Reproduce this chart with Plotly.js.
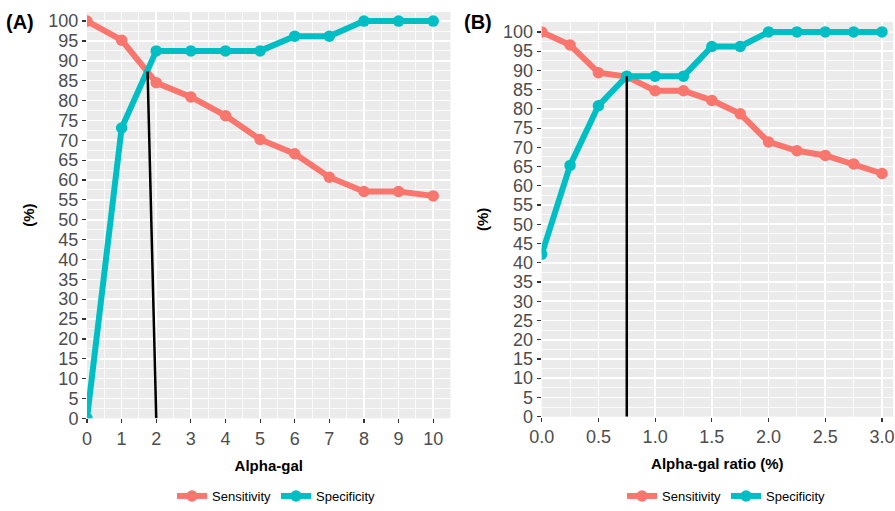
<!DOCTYPE html>
<html>
<head>
<meta charset="utf-8">
<script src="https://cdn.plot.ly/plotly-3.0.1.min.js"></script>
<style>
  html, body { margin: 0; padding: 0; background: #ffffff; }
  #chart { width: 895px; height: 511px; }
</style>
</head>
<body>
<div id="chart"></div>
<script>
// ---------- Data ----------
const alphaGal = [0, 1, 2, 3, 4, 5, 6, 7, 8, 9, 10];
const sensA = [100, 95.2, 84.5, 80.9, 76.2, 70.2, 66.6, 60.7, 57.1, 57.1, 56.0];
const specA = [0, 73.1, 92.5, 92.5, 92.5, 92.5, 96.2, 96.2, 100, 100, 100];
const cutoffAx = [2, 1.75];
const cutoffAy = [0, 87.3];

const alphaGalRatio = [0, 0.25, 0.5, 0.75, 1.0, 1.25, 1.5, 1.75, 2.0, 2.25, 2.5, 2.75, 3.0];
const sensB = [100, 96.6, 89.4, 88.4, 84.7, 84.7, 82.2, 78.7, 71.4, 69.1, 67.9, 65.7, 63.2];
const specB = [42.2, 65.3, 80.8, 88.5, 88.5, 88.5, 96.2, 96.2, 100, 100, 100, 100, 100];
const cutoffBx = [0.75, 0.75];
const cutoffBy = [0, 88.5];

const seriesNames = ['Sensitivity', 'Specificity'];
const panelLabels = ['(A)', '(B)'];
const xTitles = ['Alpha-gal', 'Alpha-gal ratio (%)'];
const yTitle = '(%)';

// ---------- Styles ----------
const RED = '#F8766D';
const TEAL = '#00BFC4';
const FONT = 'Liberation Sans, Arial, Helvetica, sans-serif';

function series(x, y, name, color, xa, ya, legend, show) {
  return {
    x: x, y: y, name: name, type: 'scatter', mode: 'lines+markers',
    xaxis: xa, yaxis: ya, legend: legend, showlegend: show,
    line: { color: color, width: 6 },
    marker: { color: color, size: 11.5 },
    hoverinfo: 'x+y+name'
  };
}
function cutoff(x, y, xa, ya) {
  return {
    x: x, y: y, type: 'scatter', mode: 'lines', xaxis: xa, yaxis: ya,
    showlegend: false, line: { color: '#000000', width: 2.5 }, hoverinfo: 'skip'
  };
}

const traces = [
  series(alphaGal, sensA, seriesNames[0], RED, 'x', 'y', 'legend', true),
  series(alphaGal, specA, seriesNames[1], TEAL, 'x', 'y', 'legend', true),
  cutoff(cutoffAx, cutoffAy, 'x', 'y'),
  series(alphaGalRatio, sensB, seriesNames[0], RED, 'x2', 'y2', 'legend2', true),
  series(alphaGalRatio, specB, seriesNames[1], TEAL, 'x2', 'y2', 'legend2', true),
  cutoff(cutoffBx, cutoffBy, 'x2', 'y2')
];

const W = 895, H = 511;
const px = v => v / W;
const py = v => 1 - v / H;

const tickFont = { family: FONT, size: 18, color: '#4d4d4d' };
const titleFont = { family: FONT, size: 15, color: '#000000', weight: 'bold' };

function xAxis(domain, range, dtick, minorDtick, fmt, title, anchor) {
  return {
    domain: domain, range: range, anchor: anchor,
    tickmode: 'linear', tick0: 0, dtick: dtick, tickformat: fmt,
    ticks: 'outside', ticklen: 4, tickwidth: 1.2, tickcolor: '#333333',
    tickfont: tickFont, showgrid: true, gridcolor: '#ffffff', gridwidth: 1.6,
    minor: { dtick: minorDtick, showgrid: true, gridcolor: '#ffffff', gridwidth: 0.8, ticks: '' },
    zeroline: false, showline: false, fixedrange: true,
    title: { text: title, font: titleFont, standoff: 12 }
  };
}
function yAxis(domain, range, anchor) {
  return {
    domain: domain, range: range, anchor: anchor,
    tickmode: 'linear', tick0: 0, dtick: 5,
    ticks: 'outside', ticklen: 4, tickwidth: 1.2, tickcolor: '#333333',
    tickfont: tickFont, showgrid: true, gridcolor: '#ffffff', gridwidth: 1.6,
    minor: { dtick: 2.5, showgrid: true, gridcolor: '#ffffff', gridwidth: 0.8, ticks: '' },
    zeroline: false, showline: false, fixedrange: true,
    title: { text: yTitle, font: titleFont, standoff: 10 }
  };
}

const legendCommon = {
  orientation: 'h', yanchor: 'middle', xanchor: 'left',
  font: { family: FONT, size: 13, color: '#000000' },
  bgcolor: 'rgba(0,0,0,0)', itemwidth: 30, tracegroupgap: 0
};

const layout = {
  width: W, height: H,
  margin: { l: 0, r: 0, t: 0, b: 0 },
  paper_bgcolor: '#ffffff',
  plot_bgcolor: '#ebebeb',
  font: { family: FONT },
  showlegend: true,
  xaxis: xAxis([px(87), px(450.5)], [0, 10.5], 1, 0.5, 'd', xTitles[0], 'y'),
  yaxis: yAxis([py(420), py(12)], [0, 102.3], 'x'),
  xaxis2: xAxis([px(541.7), px(893)], [0, 3.097], 0.5, 0.25, '.1f', xTitles[1], 'y2'),
  yaxis2: yAxis([py(418.3), py(22)], [0, 102.6], 'x2'),
  legend: Object.assign({}, legendCommon, { x: px(172), y: py(498) }),
  legend2: Object.assign({}, legendCommon, { x: px(622), y: py(498) }),
  annotations: [
    { text: panelLabels[0], xref: 'paper', yref: 'paper', x: px(4), y: py(22),
      xanchor: 'left', yanchor: 'middle', showarrow: false,
      font: { family: FONT, size: 20, color: '#000000', weight: 'bold' } },
    { text: panelLabels[1], xref: 'paper', yref: 'paper', x: px(462), y: py(22),
      xanchor: 'left', yanchor: 'middle', showarrow: false,
      font: { family: FONT, size: 20, color: '#000000', weight: 'bold' } }
  ]
};

Plotly.newPlot('chart', traces, layout, { displayModeBar: false, staticPlot: true });
</script>
</body>
</html>
